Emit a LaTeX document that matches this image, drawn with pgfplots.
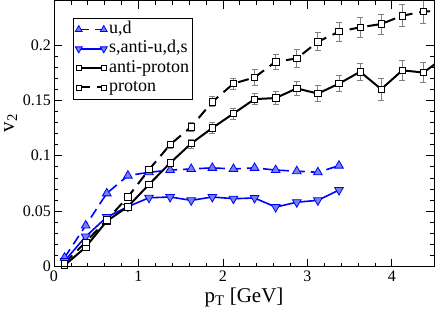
\documentclass[border=0pt]{standalone}
\usepackage{fontspec}
\setmainfont{Liberation Serif}
\usepackage{pgfplots}
\pgfplotsset{compat=1.18}
\definecolor{mfill}{RGB}{115,130,235}
\begin{document}
\begin{tikzpicture}
\begin{axis}[
  width=380pt, height=266pt, scale only axis,
  xmin=0, xmax=4.5, ymin=0, ymax=0.24,
  xtick={0,1,2,3,4}, ytick={0,0.05,0.1,0.15,0.2},
  minor x tick num=4, minor y tick num=4,
  tick align=inside, tick pos=both,
  major tick length=8pt, minor tick length=4pt,
  /pgf/number format/assume math mode=true,
  /pgf/number format/fixed, /pgf/number format/precision=2,
  tick label style={font=\fontsize{16}{18}\selectfont},
  xticklabel style={inner sep=1pt, yshift=-3pt},
  yticklabel style={inner sep=1pt, xshift=-2pt},
  xlabel={p\textsubscript{T} [GeV]},
  ylabel={v\textsubscript{2}},
  every axis x label/.style={at={(rel axis cs:0.5,0)}, anchor=base, yshift=-36pt, font=\fontsize{21}{23}\selectfont},
  every axis y label/.style={at={(rel axis cs:0,0.54)}, xshift=-40pt, rotate=90, anchor=base, font=\fontsize{21}{23}\selectfont},
  axis line style={line width=0.8pt},
  every tick/.style={black, line width=0.6pt},
  legend style={at={(0.05,0.935)}, anchor=north west, font=\fontsize{18}{19}\selectfont,
    draw=black, line width=0.6pt, inner xsep=2pt, inner ysep=2pt, row sep=0.3pt, column sep=1pt,
    nodes={inner sep=1pt, text height=12.5pt, text depth=4.5pt}},
  legend cell align=left,
  legend image code/.code={\draw[mark repeat=2,mark phase=1,#1,mark size=0.8*\pgfplotmarksize] plot coordinates {(0pt,0pt)(12.5pt,0pt)(25pt,0pt)};},
  error bars/error bar style={gray, line width=0.8pt},
  error bars/error mark options={rotate=90, mark size=3pt, gray, line width=0.8pt},
]
\coordinate (sw) at (rel axis cs:0,0);
\coordinate (ne) at (rel axis cs:1,1);
\addplot[blue, line width=1.6pt, dash pattern=on 10pt off 6pt, mark=triangle*, mark size=5pt,
  mark options={solid, fill=mfill, draw=blue, line width=0.8pt}] coordinates {
(0.125,0.008) (0.375,0.037) (0.625,0.066) (0.875,0.082) (1.125,0.085) (1.375,0.087)
(1.625,0.088) (1.875,0.089) (2.125,0.088) (2.375,0.089) (2.625,0.087) (2.875,0.086)
(3.125,0.085) (3.375,0.091)};
\addlegendentry{u,d}
\addplot[blue, line width=1.6pt, mark=triangle*, mark size=5pt,
  mark options={solid, rotate=180, fill=mfill, draw=blue, line width=0.8pt}] coordinates {
(0.125,0.005) (0.375,0.027) (0.625,0.0446) (0.875,0.054) (1.125,0.062) (1.375,0.0627)
(1.625,0.0597) (1.875,0.0627) (2.125,0.0612) (2.375,0.0618) (2.625,0.0536) (2.875,0.058)
(3.125,0.0597) (3.375,0.069)};
\addlegendentry{s,anti-u,d,s}
\addplot[black, line width=2pt, mark=square*, mark size=3.2pt,
  mark options={solid, fill=white, draw=black, line width=0.7pt},
  error bars/.cd, y dir=both, y explicit] coordinates {
(0.125,0.001) +- (0,0.001)
(0.375,0.0175) +- (0,0.0015)
(0.625,0.041) +- (0,0.002)
(0.875,0.054) +- (0,0.002)
(1.125,0.074) +- (0,0.003)
(1.375,0.0934) +- (0,0.003)
(1.625,0.111) +- (0,0.004)
(1.875,0.125) +- (0,0.005)
(2.125,0.138) +- (0,0.005)
(2.375,0.151) +- (0,0.005)
(2.625,0.152) +- (0,0.006)
(2.875,0.1607) +- (0,0.0063)
(3.125,0.156) +- (0,0.007)
(3.375,0.165) +- (0,0.007)
(3.625,0.1757) +- (0,0.008)
(3.875,0.160) +- (0,0.0098)
(4.125,0.177) +- (0,0.009)
(4.375,0.175) +- (0,0.009)
(4.625,0.189) +- (0,0.01)};
\addlegendentry{anti-proton}
\addplot[black, line width=2pt, dash pattern=on 11pt off 7pt, mark=square*, mark size=3.2pt,
  mark options={solid, fill=white, draw=black, line width=0.7pt},
  error bars/.cd, y dir=both, y explicit] coordinates {
(0.125,0.003) +- (0,0.001)
(0.375,0.022) +- (0,0.0015)
(0.625,0.042) +- (0,0.002)
(0.875,0.0627) +- (0,0.002)
(1.125,0.0874) +- (0,0.003)
(1.375,0.110) +- (0,0.003)
(1.625,0.126) +- (0,0.004)
(1.875,0.1486) +- (0,0.0045)
(2.125,0.165) +- (0,0.005)
(2.375,0.1706) +- (0,0.0072)
(2.625,0.1848) +- (0,0.007)
(2.875,0.1877) +- (0,0.008)
(3.125,0.2028) +- (0,0.008)
(3.375,0.2119) +- (0,0.0086)
(3.625,0.2158) +- (0,0.009)
(3.875,0.2188) +- (0,0.009)
(4.125,0.2263) +- (0,0.01)
(4.375,0.230) +- (0,0.011)
(4.625,0.231) +- (0,0.011)};
\addlegendentry{proton}
\end{axis}
\pgfresetboundingbox
\path ([shift={(-54pt,-44pt)}]sw) rectangle ([shift={(2pt,0.5pt)}]ne);
\end{tikzpicture}
\end{document}
